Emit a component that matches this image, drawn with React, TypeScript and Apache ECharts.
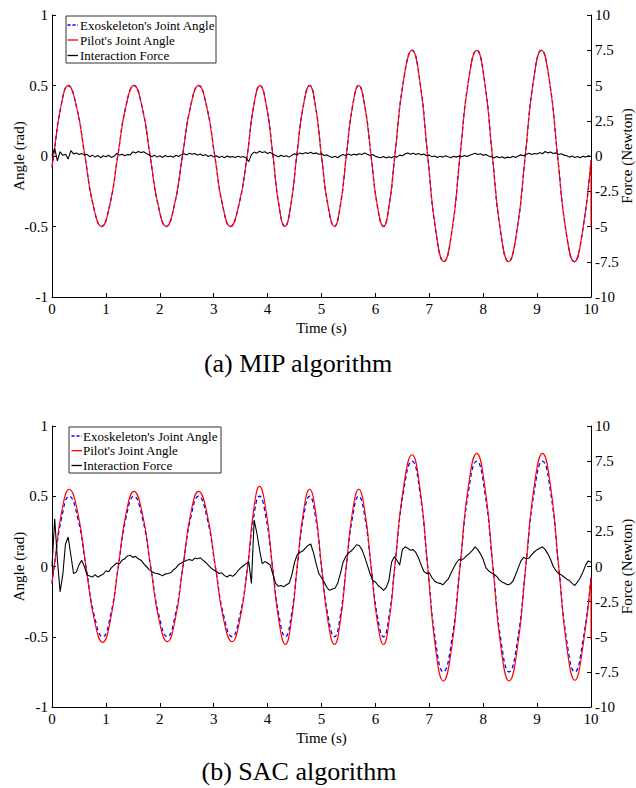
import React, { useEffect, useRef } from "react";
import * as echarts from "echarts";

const FONT = "'Liberation Serif', 'Times New Roman', serif";

const seriesNames = ["Exoskeleton's Joint Angle", "Pilot's Joint Angle", "Interaction Force"];
const xTicks = { min: 0, max: 10, interval: 1 };
const angleTicks = { min: -1, max: 1, interval: 0.5 };
const forceTicks = { min: -10, max: 10, interval: 2.5 };
const forceStep = 0.05;

// (a) MIP: pilot's joint angle [time s, angle rad] read at peaks, troughs, crossings and mid-slopes
const mipPilot: number[][] = [
  [0, -0.08], [0.03, 0], [0.165, 0.35], [0.3, 0.5], [0.455, 0.35], [0.61, 0], [0.765, -0.35], [0.92, -0.5],
  [1.07, -0.35], [1.22, 0], [1.37, 0.35], [1.52, 0.5], [1.67, 0.35], [1.82, 0], [1.97, -0.35], [2.12, -0.5],
  [2.27, -0.35], [2.42, 0], [2.57, 0.35], [2.72, 0.5], [2.87, 0.35], [3.02, 0], [3.165, -0.35], [3.31, -0.5],
  [3.465, -0.35], [3.62, 0], [3.74, 0.35], [3.86, 0.5], [3.98, 0.35], [4.1, 0], [4.21, -0.35], [4.32, -0.5],
  [4.43, -0.35], [4.54, 0], [4.66, 0.35], [4.78, 0.5], [4.89, 0.35], [5.0, 0], [5.12, -0.35], [5.24, -0.5],
  [5.35, -0.35], [5.46, 0], [5.575, 0.35], [5.69, 0.5], [5.805, 0.35], [5.92, 0], [6.035, -0.35], [6.15, -0.5],
  [6.255, -0.35], [6.36, 0], [6.52, 0.53], [6.68, 0.75], [6.825, 0.53], [6.97, 0], [7.12, -0.53], [7.27, -0.75],
  [7.42, -0.53], [7.57, 0], [7.725, 0.53], [7.88, 0.75], [8.025, 0.53], [8.17, 0], [8.32, -0.53], [8.47, -0.75],
  [8.625, -0.53], [8.78, 0], [8.93, 0.53], [9.08, 0.75], [9.23, 0.53], [9.38, 0], [9.535, -0.53], [9.69, -0.75],
  [9.845, -0.53], [10.0, -0.03], [10.0, -0.5],
];
// (a) MIP: exoskeleton angle overlaps the pilot's curve
const mipExo: number[][] = [
  [0, -0.08], [0.03, 0], [0.165, 0.35], [0.3, 0.5], [0.455, 0.35], [0.61, 0], [0.765, -0.35], [0.92, -0.5],
  [1.07, -0.35], [1.22, 0], [1.37, 0.35], [1.52, 0.5], [1.67, 0.35], [1.82, 0], [1.97, -0.35], [2.12, -0.5],
  [2.27, -0.35], [2.42, 0], [2.57, 0.35], [2.72, 0.5], [2.87, 0.35], [3.02, 0], [3.165, -0.35], [3.31, -0.5],
  [3.465, -0.35], [3.62, 0], [3.74, 0.35], [3.86, 0.5], [3.98, 0.35], [4.1, 0], [4.21, -0.35], [4.32, -0.5],
  [4.43, -0.35], [4.54, 0], [4.66, 0.35], [4.78, 0.5], [4.89, 0.35], [5.0, 0], [5.12, -0.35], [5.24, -0.5],
  [5.35, -0.35], [5.46, 0], [5.575, 0.35], [5.69, 0.5], [5.805, 0.35], [5.92, 0], [6.035, -0.35], [6.15, -0.5],
  [6.255, -0.35], [6.36, 0], [6.52, 0.53], [6.68, 0.75], [6.825, 0.53], [6.97, 0], [7.12, -0.53], [7.27, -0.75],
  [7.42, -0.53], [7.57, 0], [7.725, 0.53], [7.88, 0.75], [8.025, 0.53], [8.17, 0], [8.32, -0.53], [8.47, -0.75],
  [8.625, -0.53], [8.78, 0], [8.93, 0.53], [9.08, 0.75], [9.23, 0.53], [9.38, 0], [9.535, -0.53], [9.69, -0.75],
  [9.845, -0.53], [10.0, -0.03],
];
// (a) MIP: interaction force (N), one reading every 0.05 s
const mipForce: number[] = [
  0.05, 0.55, -0.35, 0.3, 0.05, 0.12, -0.22, 0.38, 0.15, 0.22,
  0.1, 0.18, 0.08, 0.12, -0.05, 0.06, -0.08, 0.04, -0.12, 0.02,
  -0.06, 0.05, -0.1, -0.02, 0.18, 0.06, 0.12, 0.02, 0.1, 0.08,
  0.3, 0.22, 0.32, 0.24, 0.3, 0.18, 0.08, -0.05, 0.06, -0.08,
  0.02, -0.1, 0.04, -0.06, 0.0, -0.09, 0.05, -0.04, 0.1, 0.16,
  0.08, 0.2, 0.12, 0.18, 0.06, 0.14, 0.02, 0.1, -0.04, 0.06,
  -0.08, 0.02, -0.1, -0.02, -0.12, 0.0, -0.08, -0.03, -0.11, -0.02,
  -0.09, -0.04, -0.15, -0.4, 0.1, 0.28, 0.2, 0.34, 0.25, 0.3,
  0.18, 0.26, 0.12, 0.04, -0.06, 0.05, -0.04, 0.02, -0.08, 0.06,
  0.16, 0.08, 0.22, 0.14, 0.24, 0.18, 0.26, 0.16, 0.22, 0.12,
  0.16, 0.04, 0.08, -0.04, -0.1, -0.02, -0.12, 0.02, 0.1, 0.04,
  0.14, 0.06, 0.12, 0.08, 0.16, 0.1, 0.22, 0.12, 0.04, 0.1,
  -0.02, -0.08, -0.12, -0.04, -0.14, -0.06, -0.12, -0.02, -0.08, 0.06,
  0.02, 0.14, 0.22, 0.12, 0.2, 0.1, 0.18, 0.08, 0.14, 0.02,
  0.06, -0.06, 0.0, -0.1, -0.02, -0.08, 0.02, -0.06, -0.12, -0.02,
  -0.08, 0.0, -0.06, 0.04, -0.04, 0.06, 0.12, 0.2, 0.1, 0.16,
  0.06, 0.1, 0.0, -0.06, -0.14, -0.04, -0.12, -0.06, -0.16, -0.08,
  -0.12, -0.02, -0.1, 0.0, 0.08, 0.02, 0.12, 0.2, 0.1, 0.18,
  0.14, 0.24, 0.16, 0.32, 0.22, 0.28, 0.18, 0.22, 0.1, 0.16,
  0.06, 0.02, -0.08, 0.0, -0.1, -0.04, -0.12, -0.02, -0.08, 0.02,
  -0.04,
];

// (b) SAC: pilot's joint angle
const sacPilot: number[][] = [
  [0, -0.12], [0.04, 0], [0.18, 0.39], [0.32, 0.55], [0.475, 0.39], [0.63, 0], [0.785, -0.38], [0.94, -0.54],
  [1.085, -0.38], [1.23, 0], [1.375, 0.38], [1.52, 0.535], [1.675, 0.38], [1.83, 0], [1.985, -0.38], [2.14, -0.535],
  [2.285, -0.38], [2.43, 0], [2.575, 0.38], [2.72, 0.535], [2.875, 0.38], [3.03, 0], [3.185, -0.38], [3.34, -0.535],
  [3.485, -0.38], [3.63, 0], [3.74, 0.4], [3.85, 0.57], [3.97, 0.4], [4.09, 0], [4.21, -0.39], [4.33, -0.555],
  [4.44, -0.39], [4.55, 0], [4.665, 0.39], [4.78, 0.55], [4.89, 0.39], [5.0, 0], [5.12, -0.39], [5.24, -0.555],
  [5.35, -0.39], [5.46, 0], [5.575, 0.39], [5.69, 0.55], [5.805, 0.39], [5.92, 0], [6.035, -0.39], [6.15, -0.555],
  [6.255, -0.39], [6.36, 0], [6.52, 0.56], [6.68, 0.795], [6.825, 0.56], [6.97, 0], [7.115, -0.58], [7.26, -0.815],
  [7.415, -0.58], [7.57, 0], [7.725, 0.57], [7.88, 0.805], [8.03, 0.57], [8.18, 0], [8.33, -0.58], [8.48, -0.815],
  [8.635, -0.58], [8.79, 0], [8.945, 0.57], [9.1, 0.805], [9.25, 0.57], [9.4, 0], [9.55, -0.57], [9.7, -0.81],
  [9.85, -0.57], [10.0, -0.08], [10.0, -0.52],
];
// (b) SAC: exoskeleton's joint angle
const sacExo: number[][] = [
  [0, -0.12], [0.04, 0], [0.18, 0.35], [0.32, 0.5], [0.475, 0.35], [0.63, 0], [0.785, -0.35], [0.94, -0.5],
  [1.085, -0.35], [1.23, 0], [1.375, 0.35], [1.52, 0.5], [1.675, 0.35], [1.83, 0], [1.985, -0.35], [2.14, -0.5],
  [2.285, -0.35], [2.43, 0], [2.575, 0.35], [2.72, 0.5], [2.875, 0.35], [3.03, 0], [3.185, -0.35], [3.34, -0.5],
  [3.485, -0.35], [3.63, 0], [3.74, 0.35], [3.85, 0.5], [3.97, 0.35], [4.09, 0], [4.21, -0.35], [4.33, -0.5],
  [4.44, -0.35], [4.55, 0], [4.665, 0.35], [4.78, 0.5], [4.89, 0.35], [5.0, 0], [5.12, -0.35], [5.24, -0.5],
  [5.35, -0.35], [5.46, 0], [5.575, 0.35], [5.69, 0.5], [5.805, 0.35], [5.92, 0], [6.035, -0.35], [6.15, -0.5],
  [6.255, -0.35], [6.36, 0], [6.52, 0.53], [6.68, 0.75], [6.825, 0.53], [6.97, 0], [7.115, -0.53], [7.26, -0.75],
  [7.415, -0.53], [7.57, 0], [7.725, 0.53], [7.88, 0.75], [8.03, 0.53], [8.18, 0], [8.33, -0.53], [8.48, -0.75],
  [8.635, -0.53], [8.79, 0], [8.945, 0.53], [9.1, 0.75], [9.25, 0.53], [9.4, 0], [9.55, -0.53], [9.7, -0.75],
  [9.85, -0.53], [10.0, -0.08],
];
// (b) SAC: interaction force (N), one reading every 0.05 s
const sacForce: number[] = [
  0.0, 3.4, 0.5, -1.8, -0.6, 1.6, 2.1, 0.8, -0.5, -0.4,
  0.1, 0.45, 0.0, -0.6, -0.68, -0.75, -0.58, -0.76, -0.64, -0.55,
  -0.3, -0.38, -0.1, 0.08, 0.25, 0.18, 0.45, 0.55, 0.75, 0.8,
  0.65, 0.72, 0.55, 0.45, 0.2, 0.0, -0.2, -0.36, -0.46, -0.5,
  -0.56, -0.66, -0.54, -0.5, -0.45, -0.25, -0.1, 0.15, 0.25, 0.36,
  0.45, 0.5, 0.42, 0.6, 0.55, 0.62, 0.45, 0.3, 0.1, -0.1,
  -0.25, -0.36, -0.5, -0.45, -0.65, -0.75, -0.6, -0.7, -0.55, -0.3,
  -0.1, 0.05, 0.2, 0.35, -1.2, 3.3, 2.4, 1.2, 0.2, 0.35,
  0.25, 0.1, -0.6, -1.2, -1.4, -1.35, -1.45, -1.3, -1.2, -0.6,
  0.3, 0.85, 1.0, 1.1, 1.3, 1.5, 1.6, 1.0, 0.2, -0.5,
  -0.8, -1.1, -1.5, -1.7, -1.6, -1.55, -1.2, -0.5, 0.3, 0.7,
  0.95, 1.1, 1.3, 1.55, 1.5, 1.2, 0.7, 0.1, -0.5, -1.0,
  -1.1, -1.35, -1.5, -1.7, -1.5, -1.0, 0.3, 0.7, 0.45, 0.1,
  1.2, 1.4, 1.3, 1.15, 1.2, 1.0, 0.6, 0.1, -0.35, -0.5,
  -0.45, -0.8, -1.05, -1.15, -1.2, -1.3, -1.1, -0.9, -0.5, -0.1,
  0.25, 0.5, 0.45, 0.6, 0.8, 0.95, 1.15, 1.4, 1.2, 0.9,
  0.5, -0.1, -0.3, -0.45, -0.55, -0.7, -0.95, -1.1, -1.2, -1.3,
  -1.25, -1.05, -0.6, -0.1, 0.4, 0.65, 0.55, 0.6, 0.85, 1.05,
  1.2, 1.3, 1.4, 1.2, 0.9, 0.5, 0.0, -0.3, -0.5, -0.6,
  -0.75, -0.9, -1.0, -1.2, -1.35, -1.1, -0.8, -0.4, 0.1, 0.4,
  0.3,
];

const toPairs = (vals: number[]) => vals.map((v, i) => [+(i * forceStep).toFixed(2), v]);

const axisText = { fontFamily: FONT, fontSize: 15, color: "#000" };

const STYLES = {
  exo: { color: "#0000ff", width: 1.3, type: [4, 3] as any },
  pilot: { color: "#ff0000", width: 1.1, type: "solid" as any },
  force: { color: "#000000", width: 1.1, type: "solid" as any },
};

function xAxis(gridIndex: number) {
  return {
    type: "value",
    gridIndex,
    ...xTicks,
    name: "Time (s)",
    nameLocation: "middle",
    nameGap: 23,
    nameMoveOverlap: false,
    nameTextStyle: { ...axisText },
    axisLine: { show: true, onZero: false, lineStyle: { color: "#000", width: 1 } },
    axisTick: { show: true, inside: true, length: 4, lineStyle: { color: "#000" } },
    axisLabel: { ...axisText, margin: 4 },
    splitLine: { show: false },
  };
}

function yAxis(gridIndex: number, side: "left" | "right") {
  const isLeft = side === "left";
  return {
    type: "value",
    gridIndex,
    position: side,
    ...(isLeft ? angleTicks : forceTicks),
    name: isLeft ? "Angle (rad)" : "Force (Newton)",
    nameLocation: "middle",
    nameRotate: 90,
    nameGap: isLeft ? 26 : 28,
    nameMoveOverlap: false,
    nameTextStyle: { ...axisText },
    axisLine: { show: true, onZero: false, lineStyle: { color: "#000", width: 1 } },
    axisTick: { show: true, inside: true, length: 4, lineStyle: { color: "#000" } },
    axisLabel: { ...axisText, margin: 4 },
    splitLine: { show: false },
  };
}

function lineSeries(name: string, data: number[][], xIdx: number, yIdx: number, kind: "exo" | "pilot" | "force") {
  const style = STYLES[kind];
  return {
    type: "line",
    name,
    data,
    xAxisIndex: xIdx,
    yAxisIndex: yIdx,
    symbol: "none",
    smooth: kind !== "force",
    color: style.color,
    lineStyle: style,
    z: kind === "force" ? 4 : kind === "pilot" ? 3 : 2,
  };
}

// hand-drawn legend box (graphic), so the line samples keep their dash style
function legendGraphic(x: number, y: number, w: number, h: number, rowY: number[], iconX: number, textX: number) {
  const kinds: ("exo" | "pilot" | "force")[] = ["exo", "pilot", "force"];
  const children: any[] = [
    {
      type: "rect",
      shape: { x, y, width: w, height: h },
      style: { fill: "#fff", stroke: "#333", lineWidth: 1 },
    },
  ];
  kinds.forEach((k, i) => {
    const s = STYLES[k];
    children.push({
      type: "line",
      shape: { x1: iconX, y1: rowY[i], x2: iconX + 10.5, y2: rowY[i] },
      style: { stroke: s.color, lineWidth: 1.3, lineDash: k === "exo" ? [3, 2] : null },
    });
    children.push({
      type: "text",
      x: textX,
      y: rowY[i],
      style: { text: seriesNames[i], fontFamily: FONT, fontSize: 13, fill: "#000", align: "left", verticalAlign: "middle" },
    });
  });
  return { type: "group", z: 100, children };
}

export default function App() {
  const ref = useRef<HTMLDivElement>(null);
  useEffect(() => {
    if (!ref.current) return;
    const chart = echarts.init(ref.current, undefined, { renderer: "svg" });
    const option = {
      animation: false,
      backgroundColor: "#fff",
      grid: [
        { left: 52, top: 15, width: 539, height: 282, containLabel: false, outerBoundsMode: "none" },
        { left: 52, top: 426, width: 539, height: 281, containLabel: false, outerBoundsMode: "none" },
      ],
      xAxis: [xAxis(0), xAxis(1)],
      yAxis: [yAxis(0, "left"), yAxis(0, "right"), yAxis(1, "left"), yAxis(1, "right")],
      series: [
        lineSeries(seriesNames[0], mipExo, 0, 0, "exo"),
        lineSeries(seriesNames[1], mipPilot, 0, 0, "pilot"),
        lineSeries(seriesNames[2], toPairs(mipForce), 0, 1, "force"),
        lineSeries(seriesNames[0], sacExo, 1, 2, "exo"),
        lineSeries(seriesNames[1], sacPilot, 1, 2, "pilot"),
        lineSeries(seriesNames[2], toPairs(sacForce), 1, 3, "force"),
      ],
      graphic: [
        legendGraphic(66, 16, 150, 47, [25, 40, 55.5], 67.5, 80),
        legendGraphic(69, 427, 152, 46, [436, 450.7, 465.5], 71.5, 83),
        {
          type: "text",
          x: 298,
          y: 363,
          style: { text: "(a) MIP algorithm", fontFamily: FONT, fontSize: 26, fill: "#000", align: "center", verticalAlign: "middle" },
        },
        {
          type: "text",
          x: 299,
          y: 771,
          style: { text: "(b) SAC algorithm", fontFamily: FONT, fontSize: 26, fill: "#000", align: "center", verticalAlign: "middle" },
        },
      ],
    };
    chart.setOption(option as any);
    return () => chart.dispose();
  }, []);
  return <div ref={ref} style={{ position: "absolute", left: 0, top: 0, width: 636, height: 788 }} />;
}
